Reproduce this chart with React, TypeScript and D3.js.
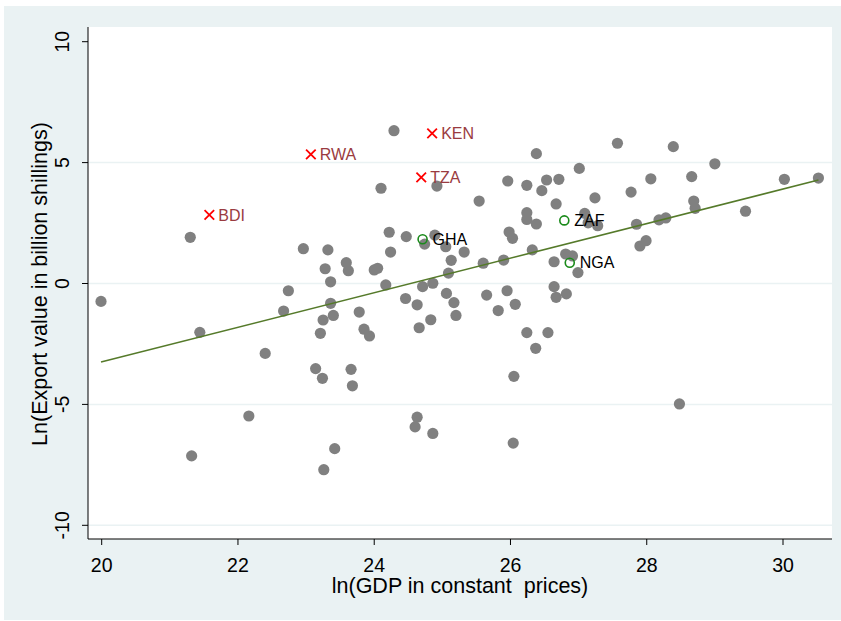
import React from "react";
import * as d3 from "d3";

// Country observations: ln(GDP) and ln(export value)
const gdp: number[] = [
  21.30, 22.96, 23.32, 23.28, 23.36, 22.74, 19.99, 24.29, 24.10, 24.92,
  25.96, 26.24, 25.54, 26.24, 26.24, 24.22, 24.47, 24.74, 24.89, 25.05,
  25.32, 25.98, 26.03, 24.24, 25.13, 23.59, 23.62, 24.00, 24.05, 25.60,
  25.90, 25.09, 24.17, 24.71, 24.86, 25.06, 24.46, 25.65, 25.95, 22.67,
  23.36, 23.25, 23.40, 23.21, 23.78, 23.85, 23.93, 24.63, 24.66, 24.83,
  25.17, 25.20, 25.82, 26.07, 26.24, 23.14, 23.24, 23.66, 23.68, 26.05,
  24.63, 24.60, 24.86, 26.04, 23.42, 23.26, 21.44, 22.40, 22.16, 21.32,
  26.38, 27.57, 28.39, 29.00, 27.01, 26.53, 26.71, 26.46, 26.67, 27.24,
  27.77, 28.06, 28.66, 30.02, 30.52, 28.69, 28.71, 29.45, 26.38, 27.09,
  27.14, 27.28, 27.85, 28.18, 28.28, 27.90, 27.99, 26.32, 26.64, 26.81,
  26.91, 26.99, 26.64, 26.67, 26.82, 26.55, 26.37, 28.48,
];
const exportValue: number[] = [
  1.91, 1.44, 1.39, 0.61, 0.07, -0.30, -0.74, 6.32, 3.94, 4.03,
  4.24, 4.06, 3.41, 2.93, 2.65, 2.12, 1.94, 1.63, 2.00, 1.52,
  1.30, 2.13, 1.87, 1.30, 0.96, 0.86, 0.53, 0.56, 0.63, 0.84,
  0.97, 0.43, -0.06, -0.13, 0.01, -0.41, -0.62, -0.48, -0.30, -1.14,
  -0.82, -1.51, -1.32, -2.06, -1.18, -1.89, -2.17, -0.88, -1.83, -1.50,
  -0.79, -1.32, -1.12, -0.86, -2.03, -3.52, -3.92, -3.55, -4.23, -3.84,
  -5.53, -5.93, -6.20, -6.60, -6.83, -7.70, -2.02, -2.89, -5.48, -7.13,
  5.37, 5.80, 5.66, 4.95, 4.76, 4.28, 4.31, 3.84, 3.29, 3.54,
  3.78, 4.33, 4.42, 4.31, 4.36, 3.41, 3.11, 2.99, 2.46, 2.90,
  2.51, 2.39, 2.45, 2.63, 2.71, 1.55, 1.77, 1.39, 0.90, 1.22,
  1.14, 0.45, -0.13, -0.57, -0.43, -2.03, -2.68, -4.98,
];

// East African Community members (red crosses)
const eacCodes: string[] = ["BDI", "RWA", "KEN", "TZA"];
const eacGdp: number[] = [21.58, 23.07, 24.85, 24.69];
const eacExport: number[] = [2.84, 5.34, 6.21, 4.39];

// Large African comparators (green hollow circles)
const peerCodes: string[] = ["GHA", "ZAF", "NGA"];
const peerGdp: number[] = [24.71, 26.79, 26.87];
const peerExport: number[] = [1.83, 2.61, 0.86];

// Fitted values line endpoints
const fitGdp: number[] = [19.99, 30.52];
const fitExport: number[] = [-3.25, 4.28];

const xTicks: number[] = [20, 22, 24, 26, 28, 30];
const yTicks: number[] = [-10, -5, 0, 5, 10];
const yGrid: number[] = [-10, -5, 0, 5];

const W = 841;
const H = 621;
const plot = { left: 88, right: 832, top: 27, bottom: 539 };
const FONT = "'Liberation Sans', Arial, sans-serif";

export default function App() {
  const x = d3.scaleLinear().domain([20, 30]).range([101.7, 783]);
  const y = d3.scaleLinear().domain([-10, 10]).range([525.3, 41.7]);
  const fitLine = d3
    .line<number>()
    .x((_, i) => x(fitGdp[i]))
    .y((d) => y(d))(fitExport);

  return (
    <svg
      width={W}
      height={H}
      style={{ position: "absolute", left: 0, top: 0, display: "block" }}
      fontFamily={FONT}
    >
      <rect x={0} y={0} width={W} height={H} fill="#ffffff" />
      <rect x={4} y={6} width={W - 4} height={H - 7} fill="#eaf2f3" />
      <rect
        x={plot.left}
        y={plot.top}
        width={plot.right - plot.left}
        height={plot.bottom - plot.top}
        fill="#ffffff"
      />

      {yGrid.map((t) => (
        <line
          key={`g${t}`}
          x1={plot.left}
          x2={plot.right}
          y1={y(t)}
          y2={y(t)}
          stroke="#eaf2f3"
          strokeWidth={1.5}
        />
      ))}

      {/* axes */}
      <line x1={plot.left} x2={plot.left} y1={plot.top} y2={plot.bottom} stroke="#000" strokeWidth={1} />
      <line x1={plot.left} x2={plot.right} y1={plot.bottom} y2={plot.bottom} stroke="#000" strokeWidth={1} />
      {yTicks.map((t) => (
        <g key={`y${t}`}>
          <line x1={plot.left - 6} x2={plot.left} y1={y(t)} y2={y(t)} stroke="#000" />
          <text
            transform={`translate(${plot.left - 19},${y(t)}) rotate(-90)`}
            textAnchor="middle"
            fontSize={19.5}
            fill="#000"
          >
            {t}
          </text>
        </g>
      ))}
      {xTicks.map((t) => (
        <g key={`x${t}`}>
          <line x1={x(t)} x2={x(t)} y1={plot.bottom} y2={plot.bottom + 6} stroke="#000" />
          <text x={x(t)} y={plot.bottom + 33} textAnchor="middle" fontSize={19.5} fill="#000">
            {t}
          </text>
        </g>
      ))}

      <text x={460} y={593} textAnchor="middle" fontSize={21.5} fill="#000">
        ln(GDP in constant{"\u00a0 "}prices)
      </text>
      <text
        transform={`translate(47,284) rotate(-90)`}
        textAnchor="middle"
        fontSize={21.5}
        fill="#000"
      >
        Ln(Export value in billion shillings)
      </text>

      {/* all countries */}
      {gdp.map((g, i) => (
        <circle key={`p${i}`} cx={x(g)} cy={y(exportValue[i])} r={5.6} fill="#808080" />
      ))}

      <path d={fitLine ?? ""} fill="none" stroke="#557a2a" strokeWidth={1.6} />

      {/* EAC members */}
      {eacCodes.map((c, i) => {
        const cx = x(eacGdp[i]);
        const cy = y(eacExport[i]);
        const s = 4.8;
        return (
          <g key={c}>
            <path
              d={`M${cx - s},${cy - s}L${cx + s},${cy + s}M${cx - s},${cy + s}L${cx + s},${cy - s}`}
              stroke="#ff0000"
              strokeWidth={1.8}
            />
            <text x={cx + 9} y={cy} dy="0.36em" fontSize={16} fill="#9a3b40">
              {c}
            </text>
          </g>
        );
      })}

      {/* comparator economies */}
      {peerCodes.map((c, i) => {
        const cx = x(peerGdp[i]);
        const cy = y(peerExport[i]);
        return (
          <g key={c}>
            <circle cx={cx} cy={cy} r={4.5} fill="none" stroke="#1a8a1a" strokeWidth={1.6} />
            <text x={cx + 10} y={cy} dy="0.36em" fontSize={16} fill="#000">
              {c}
            </text>
          </g>
        );
      })}
    </svg>
  );
}
